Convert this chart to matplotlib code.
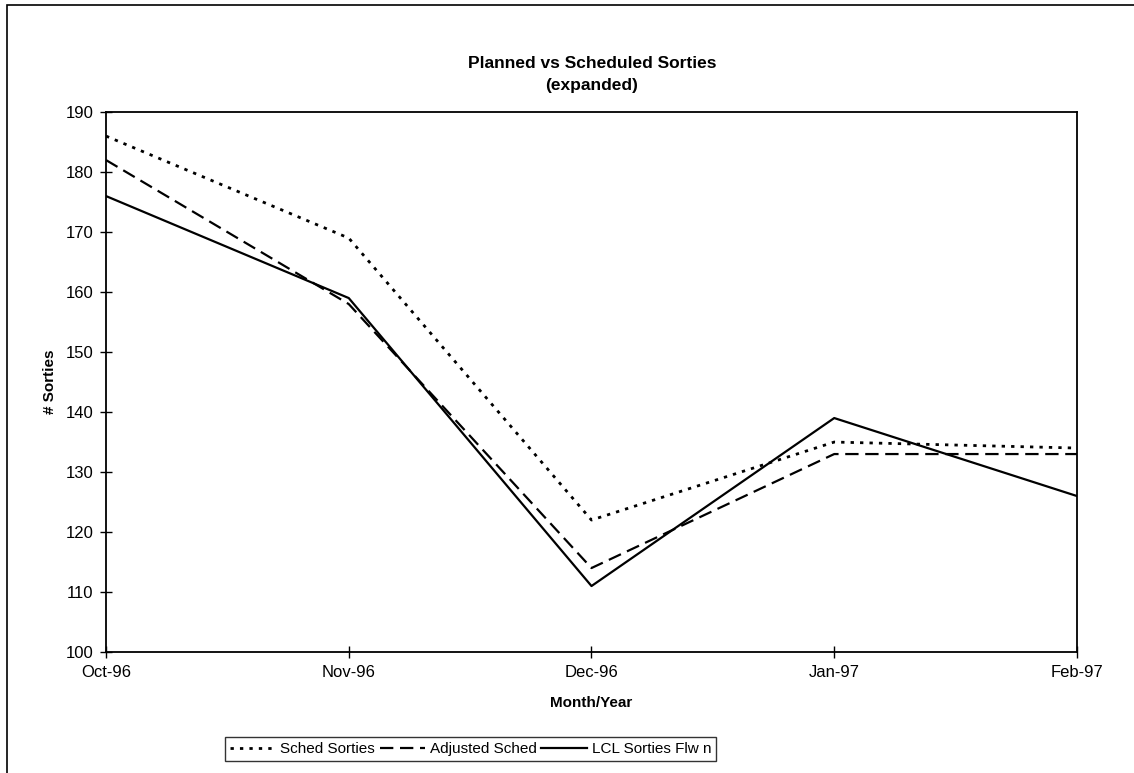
import matplotlib.pyplot as plt
from matplotlib.patches import Rectangle

plt.rcParams['font.family'] = ['Liberation Sans', 'DejaVu Sans']

months = ['Oct-96', 'Nov-96', 'Dec-96', 'Jan-97', 'Feb-97']
sched_sorties = [186, 169, 122, 135, 134]
adjusted_sched = [182, 158, 114, 133, 133]
lcl_sorties_flown = [176, 159, 111, 139, 126]

fig = plt.figure(figsize=(11.34, 7.73), dpi=100)
ax = fig.add_axes([0.0935, 0.1565, 0.8562, 0.6985])

x = list(range(len(months)))
ax.plot(x, sched_sorties, color='black', lw=2, linestyle=(0, (1.2, 2.2)), label='Sched Sorties')
ax.plot(x, adjusted_sched, color='black', lw=1.6, linestyle=(0, (6, 3)), label='Adjusted Sched')
ax.plot(x, lcl_sorties_flown, color='black', lw=1.6, linestyle='-', label='LCL Sorties Flw n')

ax.set_xlim(0, len(months) - 1)
ax.set_ylim(100, 190)
ax.set_xticks(x)
ax.set_xticklabels(months)
ax.set_yticks(range(100, 191, 10))
ax.tick_params(direction='inout', length=8, width=1, labelsize=12, pad=5)
for s in ax.spines.values():
    s.set_linewidth(1.3)

ax.set_xlabel('Month/Year', fontsize=11, fontweight='bold', labelpad=12)
ax.set_ylabel('# Sorties', fontsize=11, fontweight='bold', labelpad=6)

fig.text(0.522, 0.918, 'Planned vs Scheduled Sorties', ha='center', va='center',
         fontsize=12.5, fontweight='bold')
fig.text(0.522, 0.89, '(expanded)', ha='center', va='center',
         fontsize=12.5, fontweight='bold')

leg = fig.legend(loc='center', bbox_to_anchor=(0.415, 0.031), ncol=3, frameon=True,
                 fancybox=False, edgecolor='black', fontsize=11, handlelength=3.0,
                 handletextpad=0.3, columnspacing=0.3, borderpad=0.3)
leg.get_frame().set_linewidth(1)

fig.patches.append(Rectangle((0.006, -0.01), 1.2, 1.003, transform=fig.transFigure,
                             fill=False, edgecolor='black', lw=1.2))

fig.savefig('out.png', dpi=100)
